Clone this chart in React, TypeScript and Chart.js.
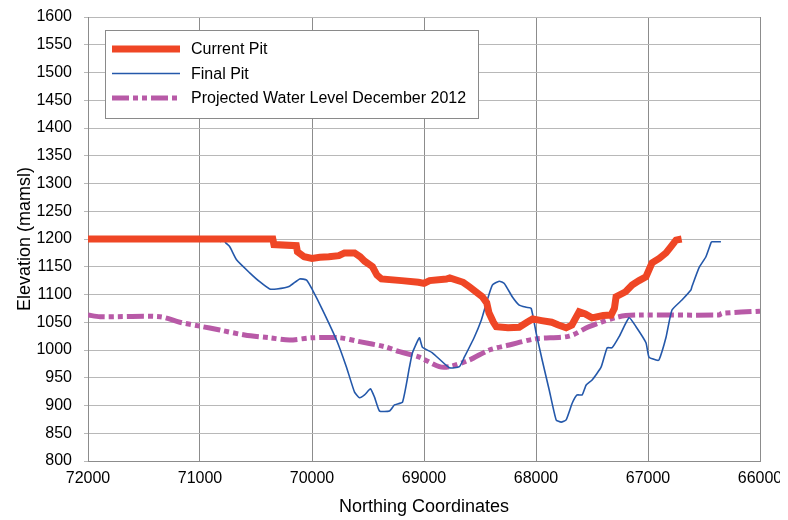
import React, { useEffect, useRef } from "react";
import { Chart, registerables } from "chart.js";

Chart.register(...registerables);

const seriesLabels = ["Current Pit", "Final Pit", "Projected Water Level December 2012"];

const xTickValues = [72000, 71000, 70000, 69000, 68000, 67000, 66000];
const yTickValues = [800, 850, 900, 950, 1000, 1050, 1100, 1150, 1200, 1250, 1300, 1350, 1400, 1450, 1500, 1550, 1600];

const currentPitX = [72000, 70350, 70340, 70140, 70130, 70070, 70000, 69930, 69850, 69760, 69710, 69620, 69570, 69530, 69460, 69420, 69380, 69200, 69050, 69000, 68950, 68800, 68770, 68650, 68595, 68480, 68440, 68420, 68380, 68355, 68250, 68150, 68080, 68030, 67950, 67860, 67800, 67731, 67680, 67615, 67560, 67500, 67400, 67330, 67300, 67285, 67200, 67142, 67080, 67018, 66964, 66900, 66839, 66800, 66750, 66700];
const currentPitY = [1200, 1200, 1190, 1188, 1177, 1168, 1165, 1167, 1168, 1170, 1175, 1175, 1168, 1160, 1150, 1135, 1128, 1125, 1122, 1120, 1125, 1128, 1130, 1122, 1114, 1096, 1085, 1067, 1050, 1042, 1040, 1041, 1050, 1056, 1053, 1050, 1045, 1040, 1045, 1069, 1065, 1058, 1062, 1063, 1075, 1096, 1105, 1117, 1125, 1132, 1157, 1165, 1175, 1185, 1198, 1200];

const finalPitX = [70823, 70788, 70770, 70734, 70672, 70556, 70467, 70378, 70315, 70200, 70110, 70048, 69995, 69905, 69781, 69692, 69620, 69576, 69531, 69478, 69442, 69397, 69308, 69264, 69192, 69130, 69103, 69041, 69014, 68925, 68773, 68684, 68640, 68551, 68488, 68444, 68390, 68328, 68283, 68212, 68150, 68087, 68043, 67998, 67945, 67882, 67820, 67775, 67731, 67677, 67633, 67588, 67552, 67499, 67419, 67365, 67321, 67258, 67169, 67107, 67018, 66991, 66928, 66902, 66839, 66786, 66697, 66617, 66608, 66545, 66483, 66438, 66429, 66349];
const finalPitY = [1195, 1198, 1193, 1186, 1162, 1139, 1123, 1110, 1110, 1115, 1128, 1126, 1108, 1072, 1018, 969, 924, 914, 919, 930, 915, 890, 890, 901, 906, 969, 995, 1022, 1005, 995, 968, 970, 987, 1023, 1054, 1084, 1117, 1124, 1120, 1096, 1081, 1077, 1075, 1030, 982, 928, 874, 870, 874, 904, 919, 919, 937, 946, 969, 1004, 1004, 1024, 1058, 1042, 1013, 987, 982, 982, 1023, 1072, 1090, 1108, 1114, 1148, 1168, 1193, 1195, 1195];

const waterX = [72000, 71893, 71358, 71180, 71002, 70823, 70601, 70378, 70200, 70004, 69754, 69576, 69353, 69219, 69041, 68863, 68773, 68595, 68417, 68239, 68007, 67704, 67526, 67258, 67080, 66367, 66340, 66000];
const waterY = [1063, 1060, 1060, 1050, 1043, 1036, 1027, 1022, 1018, 1022, 1022, 1015, 1006, 997, 987, 970, 970, 982, 1000, 1009, 1020, 1025, 1042, 1060, 1063, 1063, 1066, 1070];

const toPoints = (xs: number[], ys: number[]) => xs.map((x, i) => ({ x, y: ys[i] }));

const FONT = '"Liberation Sans", Arial, sans-serif';

const legendPlugin = {
  id: "boxLegend",
  afterDatasetsDraw(chart: any) {
    const ctx = chart.ctx as CanvasRenderingContext2D;
    ctx.save();
    ctx.fillStyle = "#ffffff";
    ctx.fillRect(97, 22, 373, 88);
    ctx.strokeStyle = "#8a8a8a";
    ctx.lineWidth = 1;
    ctx.strokeRect(97.5, 22.5, 373, 88);
    chart.data.datasets.forEach((ds: any, i: number) => {
      const y = 41 + i * 24.5;
      ctx.beginPath();
      ctx.strokeStyle = ds.borderColor;
      ctx.lineWidth = ds.borderWidth;
      ctx.lineCap = "butt";
      ctx.setLineDash(ds.borderDash || []);
      ctx.moveTo(104, y);
      ctx.lineTo(172, y);
      ctx.stroke();
      ctx.setLineDash([]);
      ctx.fillStyle = "#000000";
      ctx.font = `16px ${FONT}`;
      ctx.textBaseline = "middle";
      ctx.textAlign = "left";
      ctx.fillText(ds.label, 183, y + 1);
    });
    ctx.restore();
  },
};

export default function App() {
  const ref = useRef<HTMLCanvasElement | null>(null);
  useEffect(() => {
    document.documentElement.style.overflow = "hidden";
    document.body.style.overflow = "hidden";
    if (!ref.current) return;
    const chart = new Chart(ref.current, {
      type: "line",
      data: {
        datasets: [
          {
            label: seriesLabels[0],
            data: toPoints(currentPitX, currentPitY),
            borderColor: "#ef4625",
            borderWidth: 7,
            pointRadius: 0,
            tension: 0,
            borderJoinStyle: "miter",
          },
          {
            label: seriesLabels[1],
            data: toPoints(finalPitX, finalPitY),
            borderColor: "#2458aa",
            borderWidth: 1.6,
            pointRadius: 0,
            tension: 0.15,
          },
          {
            label: seriesLabels[2],
            data: toPoints(waterX, waterY),
            borderColor: "#b85aa7",
            borderWidth: 5,
            borderDash: [17, 4, 5, 4, 5, 4],
            pointRadius: 0,
            tension: 0.3,
          },
        ] as any,
      },
      options: {
        animation: false,
        responsive: false,
        maintainAspectRatio: false,
        layout: { padding: { top: 9, right: 28, left: 0, bottom: 0 } },
        plugins: { legend: { display: false }, tooltip: { enabled: false } },
        scales: {
          x: {
            type: "linear",
            reverse: true,
            min: 66000,
            max: 72000,
            afterBuildTicks: (scale: any) => {
              scale.ticks = xTickValues.map((v) => ({ value: v }));
            },
            afterFit: (scale: any) => {
              scale.height = 59;
              scale.paddingLeft = 0;
              scale.paddingRight = 0;
            },
            grid: { color: "#8c8c8c", lineWidth: 1, drawTicks: false },
            border: { color: "#8c8c8c" },
            ticks: {
              padding: 8,
              color: "#000",
              font: { family: FONT, size: 16 },
              maxRotation: 0,
              callback: (v: any) => String(v),
            },
            title: {
              display: true,
              text: "Northing Coordinates",
              color: "#000",
              font: { family: FONT, size: 18 },
              padding: { top: 0, bottom: 2 },
            },
          },
          y: {
            type: "linear",
            min: 800,
            max: 1600,
            afterBuildTicks: (scale: any) => {
              scale.ticks = yTickValues.map((v) => ({ value: v }));
            },
            afterFit: (scale: any) => {
              scale.width = 80;
              scale.paddingTop = 0;
              scale.paddingBottom = 0;
            },
            grid: { color: "#b8b8b8", lineWidth: 1, tickLength: 4 },
            border: { color: "#8c8c8c" },
            ticks: {
              padding: 12,
              color: "#000",
              font: { family: FONT, size: 16 },
              callback: (v: any) => String(v),
            },
            title: {
              display: true,
              text: "Elevation (mamsl)",
              color: "#000",
              font: { family: FONT, size: 18 },
              padding: { top: 6, bottom: 0 },
            },
          },
        },
      } as any,
      plugins: [legendPlugin],
    });
    return () => chart.destroy();
  }, []);
  return (
    <div style={{ width: 780, height: 512 }}>
      <canvas ref={ref} width={780} height={512} style={{ display: "block" }} />
    </div>
  );
}
